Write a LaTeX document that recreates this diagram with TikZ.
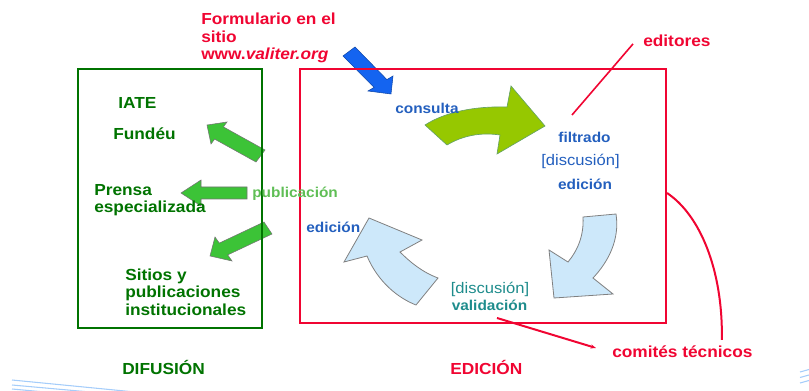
\documentclass[tikz,border=0pt]{standalone}
\usepackage{fontspec}
\setmainfont{Liberation Sans}[FakeStretch=1.08]
\usetikzlibrary{calc, arrows.meta}

\definecolor{edred}{RGB}{240,5,50}
\definecolor{difgreen}{RGB}{0,115,0}
\definecolor{pubgreen}{RGB}{60,195,55}
\definecolor{pubtext}{RGB}{95,190,85}
\definecolor{limegreen}{RGB}{150,200,0}
\definecolor{txtblue}{RGB}{35,95,190}
\definecolor{formblue}{RGB}{20,100,240}
\definecolor{tealtxt}{RGB}{30,140,140}
\definecolor{paleblue}{RGB}{205,232,250}
\definecolor{decoblue}{RGB}{165,205,250}

\tikzset{
  biglabel/.style={font=\bfseries\fontsize{12}{13.1}\selectfont, inner sep=0pt, align=left},
  smalllabel/.style={font=\bfseries\fontsize{10.7}{12}\selectfont, inner sep=0pt, text=txtblue},
  pubarrow/.style={fill=pubgreen, draw=black!55, line width=0.4pt},
  cyclearrow/.style={fill=paleblue, draw=black!50, line width=0.6pt},
  redline/.style={draw=edred, line width=1.5pt}
}

\begin{document}
\begin{tikzpicture}[x=0.75pt, y=-0.75pt]
    \useasboundingbox (0,0) rectangle (809,391);

    % Slide decoration lines
    \begin{scope}[decoblue, line width=0.8pt]
        \clip (0,0) rectangle (809,391);
        \draw (12,380) -- (135,392);
        \draw (12,385) -- (90,392);
        \draw (12,389) -- (45,392);
        \draw (800,372) -- (809,369.5);
        \draw (800,377.5) -- (809,375);
        \draw (800,383) -- (809,380.5);
    \end{scope}

    % Incoming arrow from the web form
    \filldraw[fill=formblue, draw=formblue!70!black, line width=0.4pt]
        (343,56) -- (374.1,87.4) -- (368,91) -- (391,94) -- (393,76) -- (386.9,79.6) -- (355,47) -- cycle;

    % Publication arrows (pointing to the left)
    \filldraw[pubarrow] (265,150) -- (223.4,126.9) -- (227,122) -- (207,125)
        -- (211,144) -- (214.6,139.1) -- (256,162) -- cycle;
    \filldraw[pubarrow] (247,187) -- (201,187) -- (201,180) -- (181,193)
        -- (201,206) -- (201,199) -- (247,199) -- cycle;
    \filldraw[pubarrow] (264,222) -- (219.3,243.1) -- (215,237) -- (210,256)
        -- (232,261) -- (227.7,254.9) -- (272,234) -- cycle;

    % Curved arrow consulta -> filtrado
    \filldraw[fill=limegreen, draw=black!60!green!60, line width=0.5pt]
        (425,125) .. controls (445,112) and (475,106) .. (507,107)
        -- (511,86) -- (545,126) -- (497,154) -- (500,135)
        .. controls (480,132) and (462,136) .. (447,145) -- cycle;

    % Curved arrows of the validation cycle
    \filldraw[cyclearrow] (583,217) -- (616,214)
        .. controls (620,240) and (608,262) .. (593,278)
        -- (613,294) -- (554,298) -- (549,250) -- (568,262)
        .. controls (578,250) and (584,235) .. (583,217) -- cycle;
    \filldraw[cyclearrow] (369,218) -- (422,240) -- (400,252)
        .. controls (410,262) and (422,272) .. (438,278)
        -- (416,305)
        .. controls (398,298) and (378,282) .. (367,256)
        -- (344,262) -- cycle;

    % Frames
    \draw[difgreen, line width=1.5pt] (78,69) rectangle (262,328);
    \draw[redline] (300,69) rectangle (666,323);

    % Labels
    \node[biglabel, text=edred, anchor=west] (form) at (201,38)
        {Formulario en el\\sitio\\www.\textit{valiter.org}};
    \node[biglabel, text=edred, anchor=west] (editores) at (643,41) {editores};
    \node[biglabel, text=difgreen, anchor=west] (iate) at (118,103) {IATE};
    \node[biglabel, text=difgreen, anchor=west] (fundeu) at (113,134) {Fundéu};
    \node[biglabel, text=difgreen, anchor=west] (prensa) at (94,200) {Prensa\\especializada};
    \node[biglabel, text=difgreen, anchor=west] (sitios) at (125,292)
        {Sitios y\\publicaciones\\institucionales};
    \node[biglabel, text=difgreen, anchor=west] (difusion) at (122,367) {DIFUSIÓN};
    \node[biglabel, text=edred, anchor=west] (edicion) at (450,367) {EDICIÓN};
    \node[biglabel, text=edred, anchor=west] (comites) at (612,352) {comités técnicos};

    \node[smalllabel, text=pubtext, anchor=west] (publica) at (252,194) {publicación};
    \node[smalllabel, anchor=west] (consulta) at (395,108) {consulta};
    \node[smalllabel] (filtrado) at (584.5,137) {filtrado};
    \node[smalllabel, font=\fontsize{11.5}{12}\selectfont] (discA) at (580.5,161) {[discusión]};
    \node[smalllabel] (edicA) at (585,184) {edición};
    \node[smalllabel, anchor=west] (edicB) at (306,227) {edición};
    \node[smalllabel, text=tealtxt, font=\fontsize{11.5}{12}\selectfont] (discB) at (490,289) {[discusión]};
    \node[smalllabel, text=tealtxt] (valida) at (489.5,305) {validación};

    % Pointer lines to the red labels
    \coordinate (edpt) at (572,115);
    \coordinate (valpt) at (497,318);
    \coordinate (boxpt) at (667,193);
    \draw[redline, line width=1.2pt] (edpt) -- ([xshift=-7.5pt, yshift=-2.2pt]editores.west);
    \draw[redline, -{Stealth[length=4pt, width=3pt]}] (valpt) -- ([xshift=-12pt, yshift=3pt]comites.west);
    \draw[redline] (boxpt) .. controls (700,215) and (723,270) .. ([xshift=29.6pt, yshift=4.5pt]comites.north);

\end{tikzpicture}
\end{document}
